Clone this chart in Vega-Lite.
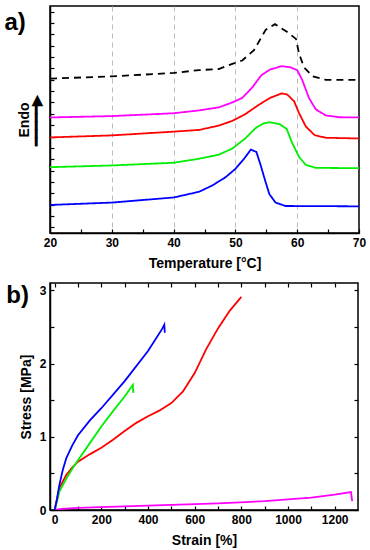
{
  "$schema": "https://vega.github.io/schema/vega-lite/v6.json",
  "padding": {"left": 3, "top": 5, "right": 8, "bottom": 3},
  "background": "white",
  "spacing": 10,
  "config": {
    "font": "Liberation Sans",
    "view": {"stroke": "black", "strokeWidth": 1.5},
    "axis": {
      "labelFont": "Liberation Sans", "labelFontWeight": "bold", "labelFontSize": 12, "labelColor": "black",
      "titleFont": "Liberation Sans", "titleFontWeight": "bold", "titleFontSize": 14, "titleColor": "black",
      "domainColor": "black", "domainWidth": 1.5, "tickColor": "black", "tickWidth": 1.2,
      "tickSize": -4, "labelPadding": 8, "labelFlush": false, "labelOverlap": false, "grid": false
    }
  },
  "datasets": {
    "dsc": [
      {"s": "ref", "T": 20, "v": 13.6}, {"s": "ref", "T": 30, "v": 13.8}, {"s": "ref", "T": 40, "v": 14.1},
      {"s": "ref", "T": 44.1, "v": 14.35}, {"s": "ref", "T": 47.3, "v": 14.45}, {"s": "ref", "T": 49.5, "v": 14.9},
      {"s": "ref", "T": 51.1, "v": 15.2}, {"s": "ref", "T": 53.0, "v": 16.1}, {"s": "ref", "T": 54.9, "v": 17.9},
      {"s": "ref", "T": 56.4, "v": 18.4}, {"s": "ref", "T": 58.4, "v": 17.7}, {"s": "ref", "T": 59.8, "v": 17.1},
      {"s": "ref", "T": 60.3, "v": 15.8}, {"s": "ref", "T": 61.1, "v": 14.6}, {"s": "ref", "T": 62.5, "v": 13.8},
      {"s": "ref", "T": 64.6, "v": 13.5}, {"s": "ref", "T": 70, "v": 13.5},
      {"s": "m", "T": 20, "v": 10.18}, {"s": "m", "T": 30, "v": 10.3}, {"s": "m", "T": 40, "v": 10.55},
      {"s": "m", "T": 44.1, "v": 10.8}, {"s": "m", "T": 47.3, "v": 11.07}, {"s": "m", "T": 49.5, "v": 11.5},
      {"s": "m", "T": 51.1, "v": 11.9}, {"s": "m", "T": 52.7, "v": 12.8}, {"s": "m", "T": 54.2, "v": 13.9},
      {"s": "m", "T": 55.6, "v": 14.4}, {"s": "m", "T": 57.5, "v": 14.7}, {"s": "m", "T": 58.9, "v": 14.6},
      {"s": "m", "T": 60.0, "v": 14.35}, {"s": "m", "T": 60.8, "v": 13.5}, {"s": "m", "T": 61.9, "v": 11.9},
      {"s": "m", "T": 63.0, "v": 10.9}, {"s": "m", "T": 64.6, "v": 10.36}, {"s": "m", "T": 66.8, "v": 10.2},
      {"s": "m", "T": 70, "v": 10.18},
      {"s": "r", "T": 20, "v": 8.42}, {"s": "r", "T": 30, "v": 8.6}, {"s": "r", "T": 40, "v": 8.93},
      {"s": "r", "T": 44.1, "v": 9.08}, {"s": "r", "T": 47.3, "v": 9.46}, {"s": "r", "T": 49.5, "v": 9.88},
      {"s": "r", "T": 51.6, "v": 10.47}, {"s": "r", "T": 53.8, "v": 11.3}, {"s": "r", "T": 55.6, "v": 11.9},
      {"s": "r", "T": 57.5, "v": 12.3}, {"s": "r", "T": 58.4, "v": 12.2}, {"s": "r", "T": 59.5, "v": 11.6},
      {"s": "r", "T": 60.3, "v": 10.56}, {"s": "r", "T": 61.4, "v": 9.38}, {"s": "r", "T": 62.8, "v": 8.63},
      {"s": "r", "T": 64.6, "v": 8.39}, {"s": "r", "T": 70, "v": 8.33},
      {"s": "g", "T": 20, "v": 5.8}, {"s": "g", "T": 30, "v": 5.95}, {"s": "g", "T": 40, "v": 6.19},
      {"s": "g", "T": 44.1, "v": 6.54}, {"s": "g", "T": 47.3, "v": 6.9}, {"s": "g", "T": 49.5, "v": 7.44},
      {"s": "g", "T": 51.6, "v": 8.33}, {"s": "g", "T": 53.2, "v": 9.22}, {"s": "g", "T": 54.6, "v": 9.67},
      {"s": "g", "T": 55.6, "v": 9.76}, {"s": "g", "T": 57.2, "v": 9.58}, {"s": "g", "T": 58.3, "v": 9.17},
      {"s": "g", "T": 59.1, "v": 8.04}, {"s": "g", "T": 60.3, "v": 6.7}, {"s": "g", "T": 61.4, "v": 6.0},
      {"s": "g", "T": 63.0, "v": 5.74}, {"s": "g", "T": 70, "v": 5.71},
      {"s": "b", "T": 20, "v": 2.47}, {"s": "b", "T": 30, "v": 2.68}, {"s": "b", "T": 40, "v": 3.13},
      {"s": "b", "T": 44.1, "v": 3.63}, {"s": "b", "T": 46.2, "v": 4.17}, {"s": "b", "T": 48.4, "v": 4.91},
      {"s": "b", "T": 50.0, "v": 5.65}, {"s": "b", "T": 51.4, "v": 6.54}, {"s": "b", "T": 52.5, "v": 7.35},
      {"s": "b", "T": 53.4, "v": 7.14}, {"s": "b", "T": 54.1, "v": 5.95}, {"s": "b", "T": 54.9, "v": 4.46},
      {"s": "b", "T": 55.5, "v": 3.42}, {"s": "b", "T": 56.5, "v": 2.68}, {"s": "b", "T": 58.1, "v": 2.38},
      {"s": "b", "T": 70, "v": 2.35}
    ],
    "ten": [
      {"s": "m", "i": 0, "e": 0, "p": 0}, {"s": "m", "i": 1, "e": 30, "p": 0.015}, {"s": "m", "i": 2, "e": 100, "p": 0.03},
      {"s": "m", "i": 3, "e": 300, "p": 0.05}, {"s": "m", "i": 4, "e": 500, "p": 0.07}, {"s": "m", "i": 5, "e": 700, "p": 0.09},
      {"s": "m", "i": 6, "e": 900, "p": 0.12}, {"s": "m", "i": 7, "e": 1000, "p": 0.145}, {"s": "m", "i": 8, "e": 1100, "p": 0.17},
      {"s": "m", "i": 9, "e": 1200, "p": 0.21}, {"s": "m", "i": 10, "e": 1270, "p": 0.245}, {"s": "m", "i": 11, "e": 1275, "p": 0.12},
      {"s": "r", "i": 0, "e": 0, "p": 0}, {"s": "r", "i": 1, "e": 10, "p": 0.15}, {"s": "r", "i": 2, "e": 20, "p": 0.3},
      {"s": "r", "i": 3, "e": 50, "p": 0.48}, {"s": "r", "i": 4, "e": 75, "p": 0.58}, {"s": "r", "i": 5, "e": 100, "p": 0.66},
      {"s": "r", "i": 6, "e": 150, "p": 0.76}, {"s": "r", "i": 7, "e": 200, "p": 0.85}, {"s": "r", "i": 8, "e": 250, "p": 0.96},
      {"s": "r", "i": 9, "e": 300, "p": 1.08}, {"s": "r", "i": 10, "e": 350, "p": 1.19}, {"s": "r", "i": 11, "e": 400, "p": 1.28},
      {"s": "r", "i": 12, "e": 450, "p": 1.36}, {"s": "r", "i": 13, "e": 500, "p": 1.46}, {"s": "r", "i": 14, "e": 550, "p": 1.62},
      {"s": "r", "i": 15, "e": 600, "p": 1.87}, {"s": "r", "i": 16, "e": 650, "p": 2.2}, {"s": "r", "i": 17, "e": 700, "p": 2.48},
      {"s": "r", "i": 18, "e": 750, "p": 2.72}, {"s": "r", "i": 19, "e": 800, "p": 2.91},
      {"s": "g", "i": 0, "e": 0, "p": 0}, {"s": "g", "i": 1, "e": 10, "p": 0.12}, {"s": "g", "i": 2, "e": 20, "p": 0.25},
      {"s": "g", "i": 3, "e": 50, "p": 0.43}, {"s": "g", "i": 4, "e": 75, "p": 0.56}, {"s": "g", "i": 5, "e": 100, "p": 0.68},
      {"s": "g", "i": 6, "e": 150, "p": 0.91}, {"s": "g", "i": 7, "e": 200, "p": 1.14}, {"s": "g", "i": 8, "e": 250, "p": 1.35},
      {"s": "g", "i": 9, "e": 300, "p": 1.55}, {"s": "g", "i": 10, "e": 335, "p": 1.71}, {"s": "g", "i": 11, "e": 337, "p": 1.6},
      {"s": "b", "i": 0, "e": 0, "p": 0}, {"s": "b", "i": 1, "e": 10, "p": 0.15}, {"s": "b", "i": 2, "e": 20, "p": 0.34},
      {"s": "b", "i": 3, "e": 35, "p": 0.55}, {"s": "b", "i": 4, "e": 50, "p": 0.71}, {"s": "b", "i": 5, "e": 75, "p": 0.88},
      {"s": "b", "i": 6, "e": 100, "p": 1.02}, {"s": "b", "i": 7, "e": 150, "p": 1.22}, {"s": "b", "i": 8, "e": 200, "p": 1.39},
      {"s": "b", "i": 9, "e": 300, "p": 1.76}, {"s": "b", "i": 10, "e": 400, "p": 2.17}, {"s": "b", "i": 11, "e": 460, "p": 2.47},
      {"s": "b", "i": 12, "e": 470, "p": 2.53}, {"s": "b", "i": 13, "e": 472, "p": 2.42}
    ]
  },
  "vconcat": [
    {
      "width": 309, "height": 227,
      "title": {"text": "a)", "orient": "top", "anchor": "start", "frame": "bounds",
                "fontSize": 24, "fontWeight": "bold", "font": "Liberation Sans", "color": "black", "offset": -29, "dx": -13},
      "data": {"name": "dsc"},
      "mark": {"type": "line", "strokeWidth": 1.8, "clip": true},
      "encoding": {
        "x": {"field": "T", "type": "quantitative",
              "scale": {"domain": [20, 70], "nice": false, "zero": false},
              "axis": {"title": "Temperature [°C]", "values": [20, 25, 30, 35, 40, 45, 50, 55, 60, 65, 70],
                       "labelExpr": "datum.value % 10 == 0 ? format(datum.value, 'd') : ''",
                       "grid": true, "gridDash": [5, 4], "gridColor": "#bbbbbb", "gridWidth": 1,
                       "gridOpacity": {"condition": {"test": "datum.value > 20 && datum.value < 70 && datum.value % 10 == 0", "value": 1}, "value": 0},
                       "titlePadding": 8}},
        "y": {"field": "v", "type": "quantitative",
              "scale": {"domain": [0, 20], "nice": false, "zero": false},
              "axis": {"title": ["Endo", "━━━━━▶"], "labels": false, "titlePadding": 6, "titleLineHeight": 12,
                       "values": [0.5, 1.5, 2.5, 3.5, 4.5, 5.5, 6.5, 7.5, 8.5, 9.5, 10.5, 11.5, 12.5, 13.5, 14.5, 15.5, 16.5, 17.5, 18.5, 19.5]}},
        "color": {"field": "s", "type": "nominal", "legend": null,
                  "scale": {"domain": ["ref", "m", "r", "g", "b"], "range": ["black", "#ff00ff", "#ff0000", "#00ee00", "#0000ff"]}},
        "strokeDash": {"field": "s", "type": "nominal", "legend": null,
                  "scale": {"domain": ["ref", "m", "r", "g", "b"], "range": [[7, 5], [1, 0], [1, 0], [1, 0], [1, 0]]}}
      }
    },
    {
      "width": 308, "height": 227,
      "title": {"text": "b)", "orient": "top", "anchor": "start", "frame": "bounds",
                "fontSize": 24, "fontWeight": "bold", "font": "Liberation Sans", "color": "black", "offset": -26, "dx": -13},
      "data": {"name": "ten"},
      "layer": [
        {
          "mark": {"type": "line", "strokeWidth": 1.8, "clip": true},
          "encoding": {
            "x": {"field": "e", "type": "quantitative",
                  "scale": {"domain": [-20, 1300], "nice": false, "zero": false},
                  "axis": {"title": "Strain [%]", "values": [0, 100, 200, 300, 400, 500, 600, 700, 800, 900, 1000, 1100, 1200],
                           "labelExpr": "datum.value % 200 == 0 ? format(datum.value, 'd') : ''", "titlePadding": 8}},
            "y": {"field": "p", "type": "quantitative",
                  "scale": {"domain": [0, 3.1], "nice": false, "zero": false},
                  "axis": {"title": "Stress [MPa]", "values": [0, 0.5, 1, 1.5, 2, 2.5, 3],
                           "labelExpr": "datum.value % 1 == 0 ? format(datum.value, 'd') : ''", "titlePadding": 6}},
            "order": {"field": "i", "type": "quantitative"},
            "color": {"field": "s", "type": "nominal", "legend": null,
                      "scale": {"domain": ["m", "r", "g", "b"], "range": ["#ff00ff", "#ff0000", "#00ee00", "#0000ff"]}}
          }
        },
        {
          "mark": {"type": "line", "opacity": 0},
          "encoding": {
            "x": {"field": "e", "type": "quantitative",
                  "axis": {"orient": "top", "title": null, "labels": false, "domain": false,
                           "values": [0, 100, 200, 300, 400, 500, 600, 700, 800, 900, 1000, 1100, 1200]}},
            "y": {"field": "p", "type": "quantitative",
                  "axis": {"orient": "right", "title": null, "labels": false, "domain": false,
                           "values": [0, 0.5, 1, 1.5, 2, 2.5, 3]}},
            "order": {"field": "i", "type": "quantitative"},
            "detail": {"field": "s", "type": "nominal"}
          }
        }
      ],
      "resolve": {"axis": {"x": "independent", "y": "independent"}}
    }
  ]
}
